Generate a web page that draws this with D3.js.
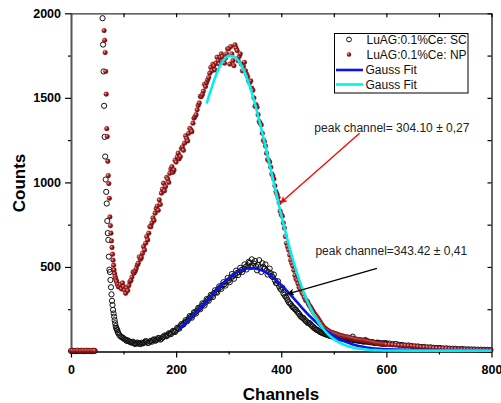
<!DOCTYPE html>
<html><head><meta charset="utf-8">
<script src="https://cdn.jsdelivr.net/npm/d3@7"></script>
<style>
body{margin:0;background:#fff}
svg{display:block;font-family:"Liberation Sans",Arial,sans-serif}
</style>
</head><body>
<svg id="chart" width="501" height="403"></svg>
<script>
// ---------------- data ----------------
const channels = [
  0,3,6,9,12,15,18,21,24,27,30,33,36,39,42,45,
  60,61,62,63,64,65,66,67,68,69,70,71,72,73,74,75,76,77,78,79,80,81,82,83,84,85,86,87,88,89,90,
  92,94,96,98,100,102,104,106,108,110,112,114,116,118,120,122,124,126,128,130,
  132,134,136,138,140,142,144,146,148,150,152,154,156,158,160,162,164,166,168,170,
  172,174,176,178,180,182,184,186,188,190,192,194,196,198,200,202,204,206,208,210,
  212,214,216,218,220,222,224,226,228,230,232,234,236,238,240,242,244,246,248,250,
  252,254,256,258,260,262,264,266,268,270,272,274,276,278,280,282,284,286,288,290,
  292,294,296,298,300,302,304,306,308,310,312,314,316,318,320,322,324,326,328,330,
  332,334,336,338,340,342,344,346,348,350,352,354,356,358,360,362,364,366,368,370,
  372,374,376,378,380,382,384,386,388,390,392,394,396,398,400,402,404,406,408,410,
  412,414,416,418,420,422,424,426,428,430,432,434,436,438,440,442,444,446,448,450,
  452,454,456,458,460,462,464,466,468,470,472,474,476,478,480,482,484,486,488,490,
  492,494,496,498,500,502,504,506,508,510,512,514,516,518,520,522,524,526,528,530,
  532,534,536,538,540,542,544,546,548,550,552,554,556,558,560,562,564,566,568,570,
  572,574,576,578,580,582,584,586,588,590,592,594,596,598,600,
  606,612,618,624,630,636,642,648,654,660,666,672,678,684,690,696,702,708,714,720,726,732,738,744,750,756,762,768,774,780,786,792,798
];
const scCounts = [
  3,4,3,2,4,3,3,4,2,3,4,3,3,2,4,3,
  1971,1815,1656,1453,1269,1153,1017,944,875,772,700,660,561,484,470,423,380,338,300,275,246,225,206,185,167,150,140,132,127,115,108,
  98,90,85,83,78,72,70,62,66,60,58,55,52,58,49,44,47,53,50,45,
  44,52,48,50,55,62,58,50,52,60,62,58,68,72,64,66,72,80,78,70,
  75,84,86,95,92,90,98,108,105,102,112,122,118,115,125,140,138,135,150,162,
  157,160,170,185,178,182,195,210,205,200,215,232,230,225,242,258,255,250,268,285,
  280,272,290,310,305,300,318,335,330,322,345,362,352,348,368,385,378,370,392,410,
  398,390,412,435,420,410,432,458,445,430,452,478,465,452,470,495,482,470,488,515,
  500,485,510,530,525,500,545,505,520,535,505,480,512,540,498,470,522,500,490,515,
  478,455,470,490,462,445,440,455,420,405,403,415,385,372,365,378,344,335,325,318,
  305,292,285,280,270,262,258,250,246,236,230,222,212,205,200,198,190,182,178,170,
  167,168,160,152,148,140,137,130,128,125,120,115,112,110,108,104,102,100,98,95,
  94,92,90,88,86,84,82,80,80,79,78,78,76,74,74,73,72,70,75,72,
  70,66,88,70,68,66,66,65,64,62,62,60,60,58,68,58,60,57,56,55,
  55,54,52,50,50,52,52,49,48,48,47,45,50,47,49,
  47,44,45,40,39,35,36,33,30,30,27,27,24,25,22,21,21,18,19,17,16,16,14,15,13,13,12,12,11,11,10,10,9
];
const npCounts = [
  5,6,4,5,6,5,4,6,5,5,6,4,5,6,5,5,
  null,null,null,1898,1840,1768,1656,1522,1318,1271,1125,1040,993,906,796,744,700,654,615,575,540,510,482,460,443,430,420,413,400,395,383,
  383,395,370,405,383,362,344,375,360,390,413,420,440,470,463,475,490,510,522,560,
  545,555,580,620,600,640,679,660,700,738,738,760,790,775,818,845,860,835,896,870,
  936,960,995,950,975,1030,1020,1000,1054,1080,1093,1060,1074,1130,1120,1150,1173,1140,1153,1200,
  1210,1190,1232,1275,1260,1245,1290,1320,1311,1300,1350,1380,1389,1400,1429,1455,1470,1508,1508,1520,
  1540,1580,1567,1590,1606,1620,1646,1680,1660,1700,1690,1665,1705,1740,1720,1700,1740,1760,1744,1720,
  1705,1735,1760,1790,1790,1700,1803,1760,1720,1690,1813,1795,1780,1720,1744,1760,1700,1660,1685,1710,
  1660,1640,1626,1600,1590,1600,1557,1545,1500,1450,1460,1445,1400,1360,1350,1340,1290,1250,1240,1215,
  1173,1135,1130,1120,1090,1050,1040,1020,980,945,930,910,880,830,810,800,760,730,680,640,
  620,600,570,540,522,505,480,450,430,420,400,380,370,360,344,335,320,305,300,295,
  280,270,262,250,240,230,220,212,205,195,185,175,165,156,147,140,135,130,125,122,
  118,115,112,110,108,106,104,102,100,97,95,93,92,90,88,87,86,85,84,82,
  80,79,78,76,74,73,72,71,70,69,68,67,66,65,64,62,61,60,58,57,
  56,55,54,52,50,49,48,48,47,46,45,45,44,43,42,
  41,40,38,37,36,35,34,33,31,29,27,26,25,23,21,20,19,18,17,16,15,15,14,13,13,12,12,11,11,10,10,10,9
];
const blueFitChannels = [205,210,220,230,240,250,260,270,280,290,300,310,320,330,340,350,360,370,380,390,400,
  410,420,430,440,450,460,470,480,490,500,510,520,530,540,550,560,570,580,590,600,620,650,700,750,800];
const blueFitCounts = [134,146,174,204,237,271,306,340,374,405,433,457,475,487,493,491,483,469,448,423,393,
  361,327,292,257,223,192,163,136,113,93,75,61,49,39,31,25,21,17,14,13,11,9,8,8,8];
const cyanFitChannels = [258,260,270,280,290,300,310,320,330,340,350,360,370,380,390,400,410,420,430,440,450,
  460,470,480,490,500,510,520,530,540,550,560,570,580,600,650,700,750,800];
const cyanFitCounts = [1466,1487,1583,1667,1721,1748,1745,1713,1653,1569,1465,1344,1214,1077,940,807,682,566,463,372,294,
  229,176,133,99,73,54,39,28,21,16,12,9,8,6,5,5,5,5];

const xMajorTicks = [0,200,400,600,800];
const xMinorTicks = [100,300,500,700];
const yMajorTicks = [500,1000,1500,2000];
const yMinorTicks = [250,750,1250,1750];
const yAllTicks = [0,250,500,750,1000,1250,1500,1750,2000];
const legendLabels = ["LuAG:0.1%Ce: SC","LuAG:0.1%Ce: NP","Gauss Fit","Gauss Fit"];
const annotations = [
  {text:"peak channel= 304.10 \u00b1 0,27", tx:463, ty:1299, from:[549,1291], to:[398,877], color:"#ff0000"},
  {text:"peak channel=343.42 \u00b1 0,41", tx:465, ty:568, from:[582,492], to:[411,340], color:"#000000"}
];

// ---------------- drawing ----------------
const svg = d3.select("#chart");
const L = 71, R = 491.5, T = 13.3, B = 351.5;
const x = d3.scaleLinear().domain([0,800]).range([L,R]);
const y = d3.scaleLinear().domain([0,2000]).range([B,T]);

const defs = svg.append("defs");
const grad = defs.append("radialGradient").attr("id","ball").attr("cx","35%").attr("cy","35%").attr("r","65%");
grad.append("stop").attr("offset","0%").attr("stop-color","#f0b0b0");
grad.append("stop").attr("offset","45%").attr("stop-color","#a52020");
grad.append("stop").attr("offset","100%").attr("stop-color","#6a0808");
annotations.forEach((a,i)=>{
  defs.append("marker").attr("id","arr"+i).attr("viewBox","0 0 10 10").attr("refX",10).attr("refY",5)
    .attr("markerWidth",9).attr("markerHeight",7).attr("markerUnits","userSpaceOnUse").attr("orient","auto")
    .append("path").attr("d","M0,0 L10,5 L0,10 L2.5,5 Z").attr("fill",a.color);
});

function styleAxis(g, color, width){
  g.select(".domain").attr("stroke",color).attr("stroke-width",width);
  g.selectAll(".tick line").attr("stroke","#000").attr("stroke-width",1.2);
  g.selectAll(".tick text").attr("font-family","'Liberation Sans',Arial,sans-serif")
    .attr("font-size",12.5).attr("font-weight","bold").attr("fill","#000");
}
const fmt = d3.format("d");

// bottom axis
const gxMinor = svg.append("g").attr("transform",`translate(0,${B})`)
  .call(d3.axisBottom(x).tickValues(xMinorTicks).tickSize(3).tickFormat("").tickSizeOuter(0));
gxMinor.select(".domain").remove(); styleAxis(gxMinor,"#000",1);
const gx = svg.append("g").attr("transform",`translate(0,${B})`)
  .call(d3.axisBottom(x).tickValues(xMajorTicks).tickFormat(fmt).tickSize(6).tickPadding(8).tickSizeOuter(0));
styleAxis(gx,"#000",1.5);
// top axis
const gxt = svg.append("g").attr("transform",`translate(0,${T})`)
  .call(d3.axisTop(x).tickValues(xMajorTicks.concat(xMinorTicks)).tickSize(-4).tickFormat("").tickSizeOuter(0));
styleAxis(gxt,"#333",1.3);
// left axis
const gyMinor = svg.append("g").attr("transform",`translate(${L},0)`)
  .call(d3.axisLeft(y).tickValues(yMinorTicks).tickSize(3).tickFormat("").tickSizeOuter(0));
gyMinor.select(".domain").remove(); styleAxis(gyMinor,"#000",1);
const gy = svg.append("g").attr("transform",`translate(${L},0)`)
  .call(d3.axisLeft(y).tickValues(yMajorTicks).tickFormat(fmt).tickSize(6).tickPadding(4).tickSizeOuter(0));
styleAxis(gy,"#555",2);
// right axis
const gyr = svg.append("g").attr("transform",`translate(${R},0)`)
  .call(d3.axisRight(y).tickValues(yAllTicks).tickSize(-4).tickFormat("").tickSizeOuter(0));
styleAxis(gyr,"#000",1.2);

// axis titles
svg.append("text").attr("x",281).attr("y",399.5).attr("text-anchor","middle")
  .attr("font-size",17).attr("font-weight","bold").text("Channels");
svg.append("text").attr("transform","translate(24.5,183) rotate(-90)").attr("text-anchor","middle")
  .attr("font-size",17).attr("font-weight","bold").text("Counts");

// data points
const scData = channels.map((c,i)=>({c, v:scCounts[i]})).filter(d=>d.v!=null);
const npData = channels.map((c,i)=>({c, v:npCounts[i]})).filter(d=>d.v!=null);

svg.append("g").selectAll("circle").data(scData).join("circle")
  .attr("cx",d=>x(d.c)).attr("cy",d=>y(d.v)).attr("r",2.6)
  .attr("fill","none").attr("stroke","#111").attr("stroke-width",1);
svg.append("g").selectAll("circle").data(npData).join("circle")
  .attr("cx",d=>x(d.c)).attr("cy",d=>y(d.v)).attr("r",2.4)
  .attr("fill","url(#ball)").attr("stroke","#7a1010").attr("stroke-width",0.3);

// fits
const line = d3.line().x(d=>x(d[0])).y(d=>y(d[1])).curve(d3.curveMonotoneX);
svg.append("path").datum(blueFitChannels.map((c,i)=>[c,blueFitCounts[i]]))
  .attr("d",line).attr("fill","none").attr("stroke","#0a14e6").attr("stroke-width",2.6);
svg.append("path").datum(cyanFitChannels.map((c,i)=>[c,cyanFitCounts[i]]))
  .attr("d",line).attr("fill","none").attr("stroke","#00f0f0").attr("stroke-width",2.6);

// annotations
annotations.forEach((a,i)=>{
  svg.append("line").attr("x1",x(a.from[0])).attr("y1",y(a.from[1]))
    .attr("x2",x(a.to[0])).attr("y2",y(a.to[1]))
    .attr("stroke",a.color).attr("stroke-width",1.3).attr("marker-end",`url(#arr${i})`);
  svg.append("text").attr("x",x(a.tx)).attr("y",y(a.ty)).attr("font-size",12).attr("fill","#222").text(a.text);
});

// legend
const lg = svg.append("g");
lg.append("rect").attr("x",334.5).attr("y",33.5).attr("width",133.5).attr("height",59.5)
  .attr("fill","#fff").attr("stroke","#000").attr("stroke-width",1);
const rows = [39.5,54.5,70,84.5];
lg.append("circle").attr("cx",349).attr("cy",rows[0]).attr("r",2.4).attr("fill","none").attr("stroke","#111").attr("stroke-width",1);
lg.append("circle").attr("cx",349).attr("cy",rows[1]).attr("r",2.2).attr("fill","url(#ball)");
lg.append("line").attr("x1",336).attr("x2",363).attr("y1",rows[2]).attr("y2",rows[2]).attr("stroke","#0a14e6").attr("stroke-width",2.6);
lg.append("line").attr("x1",336).attr("x2",363).attr("y1",rows[3]).attr("y2",rows[3]).attr("stroke","#00f0f0").attr("stroke-width",2.6);
legendLabels.forEach((t,i)=>{
  lg.append("text").attr("x", i<2 ? 366.5 : 365.5).attr("y",rows[i]+4.3).attr("font-size",12).attr("fill","#111").text(t);
});
</script>
</body></html>
